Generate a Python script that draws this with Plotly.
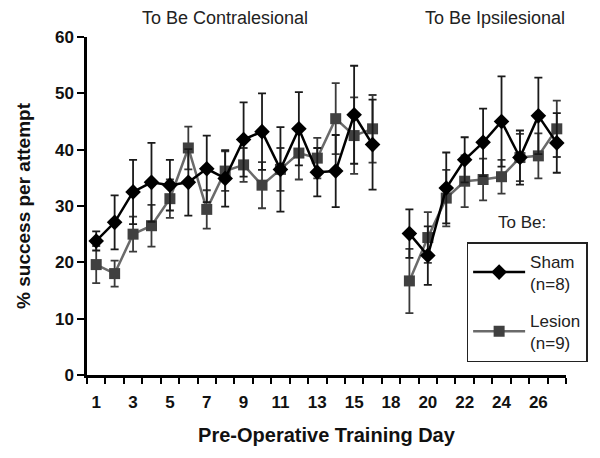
import plotly.graph_objects as go

days = ["1","2","3","4","5","6","7","8","9","10","11","12","13","14","15","16",
        "18","19","20","21","22","23","24","25","26","27"]
tick_labels = ["1","","3","","5","","7","","9","","11","","13","","15","",
               "18","","20","","22","","24","","26",""]

sham_mean = [23.8, 27.1, 32.5, 34.2, 33.7, 34.2, 36.6, 34.9, 41.8, 43.2, 36.5, 43.7, 36.0, 36.2, 46.2, 40.9,
             None, 25.1, 21.2, 33.2, 38.2, 41.3, 45.0, 38.6, 46.0, 41.2]
sham_se = [1.7, 4.8, 5.7, 7.0, 4.5, 5.9, 5.9, 5.0, 6.6, 6.8, 7.5, 6.5, 4.3, 6.4, 8.7, 8.0,
           None, 4.3, 5.2, 6.3, 4.0, 6.0, 8.0, 4.8, 6.8, 5.3]
lesion_mean = [19.6, 18.0, 25.0, 26.5, 31.3, 40.3, 29.4, 36.2, 37.3, 33.7, 36.5, 39.4, 38.5, 45.5, 42.5, 43.7,
               None, 16.7, 24.4, 31.4, 34.4, 34.7, 35.2, 38.6, 38.9, 43.7]
lesion_se = [3.3, 2.3, 3.1, 3.7, 3.4, 3.8, 3.4, 3.5, 3.0, 4.1, 3.8, 4.7, 3.6, 6.3, 6.8, 6.0,
             None, 5.7, 4.5, 5.0, 4.6, 3.7, 3.0, 4.2, 4.0, 5.0]

FONT = "Arial, 'Liberation Sans', sans-serif"

L, R, T, B = 87, 31, 37, 83
W, H = 600, 458
pw = W - L - R
ph = H - T - B

def px_x(px):
    return (px - L) / pw

def px_y(py):
    return 1 - (py - T) / ph

fig = go.Figure()
fig.add_trace(go.Scatter(
    x=days, y=lesion_mean, name="Lesion<br>(n=9)", mode="lines+markers",
    legendgroup="lesion", legendrank=2,
    line=dict(color="#6a6a6a", width=2.5),
    marker=dict(symbol="square", size=11, color="#404040"),
    error_y=dict(type="data", array=lesion_se, color="#3a3a3a", thickness=1.8, width=4),
    connectgaps=False,
))
fig.add_trace(go.Scatter(
    x=days, y=sham_mean, name="Sham<br>(n=8)", mode="lines+markers",
    legendgroup="sham", legendrank=1,
    line=dict(color="#000000", width=2.5),
    marker=dict(symbol="diamond", size=12, color="#000000"),
    error_y=dict(type="data", array=sham_se, color="#1a1a1a", thickness=1.8, width=4),
    connectgaps=False,
))

fig.update_layout(
    width=W, height=H,
    margin=dict(l=L, r=R, t=T, b=B),
    plot_bgcolor="white", paper_bgcolor="white",
    font=dict(family=FONT, color="#111111"),
    showlegend=True,
    legend=dict(
        x=px_x(469), y=px_y(242), xanchor="left", yanchor="top",
        bordercolor="#222222", borderwidth=1.5, bgcolor="white",
        traceorder="grouped", font=dict(size=17, family=FONT, color="#222222"),
        tracegroupgap=12, itemwidth=52,
    ),
    xaxis=dict(
        type="category", categoryorder="array", categoryarray=days,
        range=[-0.5, 25.5], automargin=False,
        tickvals=days, ticktext=tick_labels, tickson="boundaries", tickangle=0,
        ticks="outside", ticklen=6, tickwidth=2, tickcolor="black",
        ticklabelstandoff=10,
        showline=True, linecolor="black", linewidth=2.5,
        showgrid=False, zeroline=False,
        tickfont=dict(size=17, family=FONT, color="#111111", weight="bold"),
        title=dict(text="<b>Pre-Operative Training Day</b>", font=dict(size=20, family=FONT), standoff=17),
    ),
    yaxis=dict(
        range=[0, 60], tickvals=[0, 10, 20, 30, 40, 50, 60], automargin=False,
        ticks="outside", ticklen=7, tickwidth=2, tickcolor="black",
        showline=True, linecolor="black", linewidth=2.5,
        showgrid=False, zeroline=False,
        tickfont=dict(size=17, family=FONT, color="#111111", weight="bold"),
        title=dict(text="<b>% success per attempt</b>", font=dict(size=19, family=FONT), standoff=20),
    ),
    annotations=[
        dict(text="To Be Contralesional", x=px_x(226), y=px_y(18), xref="paper", yref="paper",
             xanchor="center", yanchor="middle",
             showarrow=False, font=dict(size=18, family=FONT, color="#222222")),
        dict(text="To Be Ipsilesional", x=px_x(498), y=px_y(18), xref="paper", yref="paper",
             xanchor="center", yanchor="middle",
             showarrow=False, font=dict(size=18, family=FONT, color="#222222")),
        dict(text="To Be:", x=px_x(525), y=px_y(222), xref="paper", yref="paper",
             xanchor="center", yanchor="middle",
             showarrow=False, font=dict(size=17, family=FONT, color="#222222")),
    ],
)

fig.write_html("out.html", config={"displayModeBar": False},
               post_script="document.body.style.margin='0px';")
